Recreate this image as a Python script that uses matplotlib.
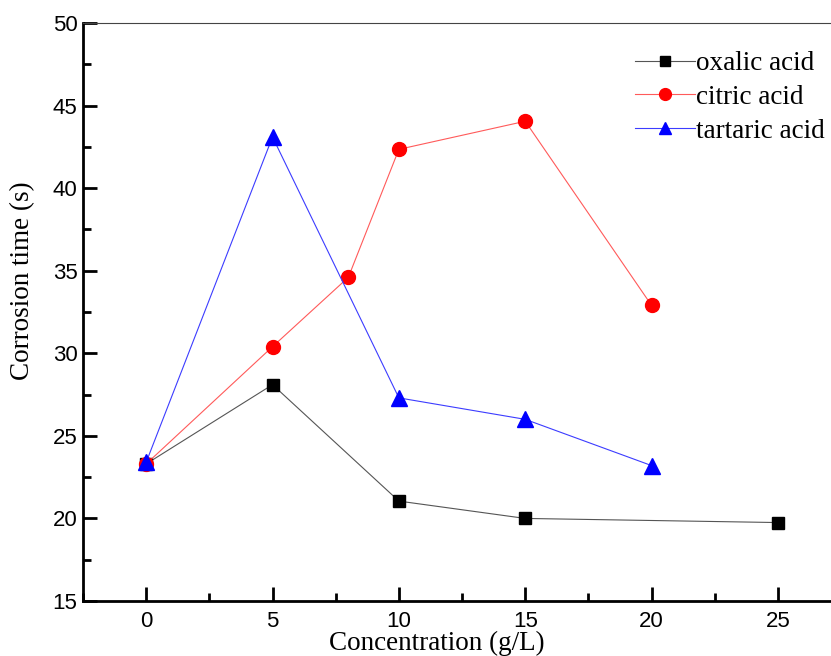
import matplotlib
matplotlib.use("Agg")
import matplotlib.pyplot as plt
from matplotlib.ticker import MultipleLocator

oxalic_x = [0, 5, 10, 15, 25]
oxalic_y = [23.3, 28.1, 21.05, 20.0, 19.75]
citric_x = [0, 5, 8, 10, 15, 20]
citric_y = [23.3, 30.4, 34.6, 42.35, 44.05, 32.9]
tartaric_x = [0, 5, 10, 15, 20]
tartaric_y = [23.4, 43.1, 27.3, 26.0, 23.2]

W, H = 831, 656
fig = plt.figure(figsize=(W / 100, H / 100), dpi=100)
ax = fig.add_axes([83 / W, 1 - 601 / H, 1 - 83 / W, (601 - 23) / H])

ax.plot(oxalic_x, oxalic_y, color="#555555", lw=0.8, marker="s", ms=9,
        mfc="black", mec="black", label="oxalic acid")
ax.plot(citric_x, citric_y, color="#ff5a5a", lw=0.8, marker="o", ms=10,
        mfc="red", mec="red", label="citric acid")
ax.plot(tartaric_x, tartaric_y, color="#3c3cff", lw=0.8, marker="^", ms=11,
        mfc="blue", mec="blue", label="tartaric acid")

ax.set_xlim(-2.5, 27.1)
ax.set_ylim(15, 50)
ax.xaxis.set_major_locator(MultipleLocator(5))
ax.xaxis.set_minor_locator(MultipleLocator(2.5))
ax.yaxis.set_major_locator(MultipleLocator(5))
ax.yaxis.set_minor_locator(MultipleLocator(2.5))

ax.spines["right"].set_visible(False)
ax.spines["top"].set_color("#444444")
ax.spines["top"].set_linewidth(0.8)
ax.spines["left"].set_linewidth(2)
ax.spines["bottom"].set_linewidth(2)

ax.tick_params(which="major", direction="in", length=10, width=2,
               labelsize=16, top=False, right=False)
ax.tick_params(axis="x", which="major", pad=7)
ax.tick_params(axis="y", which="major", pad=4)
ax.tick_params(which="minor", direction="in", length=6, width=2,
               top=False, right=False)
for lab in ax.get_xticklabels() + ax.get_yticklabels():
    lab.set_fontfamily("Liberation Sans")

ax.set_xlabel("Concentration (g/L)", family="Liberation Serif", fontsize=19.5)
ax.xaxis.set_label_coords((436.5 - 83) / (W - 83), (601 - 650) / (601 - 23))
ax.xaxis.label.set_verticalalignment("baseline")
ax.set_ylabel("Corrosion time (s)", family="Liberation Serif", fontsize=19.5)
ax.yaxis.set_label_coords((23 - 83) / (W - 83), (601 - 281) / (601 - 23))
ax.yaxis.label.set_verticalalignment("center")

leg = ax.legend(loc="upper left", bbox_to_anchor=(635 / W, 1 - 51 / H),
                bbox_transform=fig.transFigure, frameon=False,
                prop={"family": "Liberation Serif", "size": 19.5},
                handlelength=2.2, handletextpad=0.05, labelspacing=0.33,
                borderpad=0, borderaxespad=0, markerscale=0.85)

fig.savefig("out.png", dpi=100)
